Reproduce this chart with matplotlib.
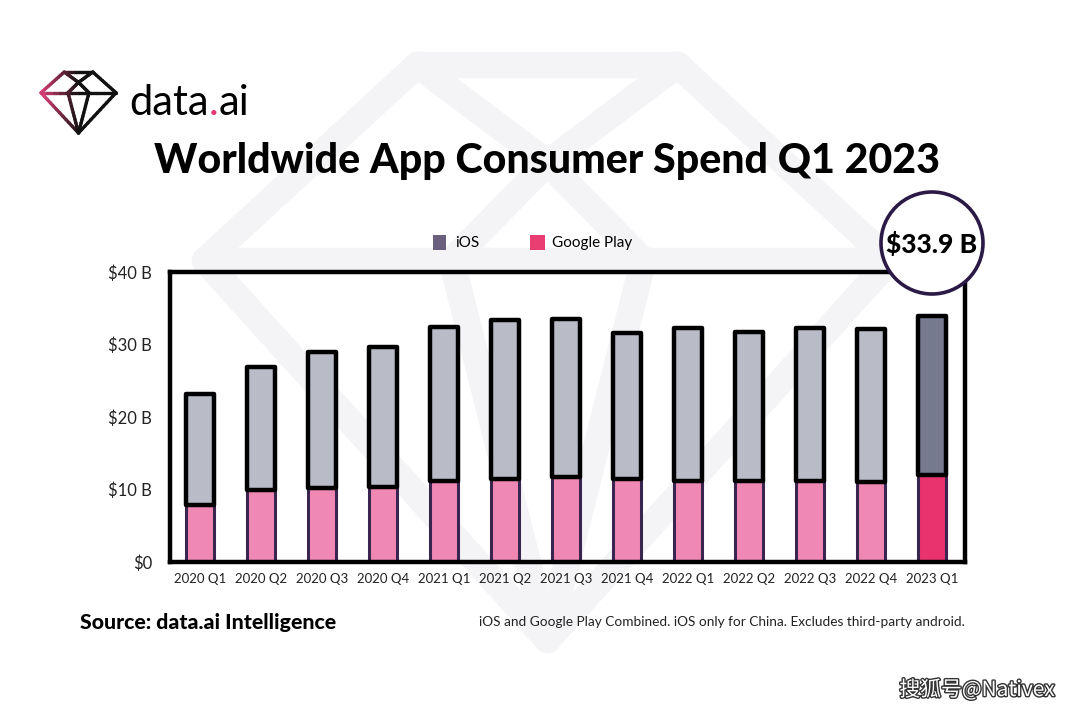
import numpy as np
import matplotlib
matplotlib.use("Agg")
import matplotlib.pyplot as plt
from matplotlib.patches import Circle, Rectangle
from matplotlib.collections import LineCollection
import matplotlib.patheffects as pe

# data (billions USD)
quarters = ["2020 Q1", "2020 Q2", "2020 Q3", "2020 Q4", "2021 Q1", "2021 Q2", "2021 Q3",
            "2021 Q4", "2022 Q1", "2022 Q2", "2022 Q3", "2022 Q4", "2023 Q1"]
total = [23.2, 26.9, 29.0, 29.7, 32.4, 33.4, 33.5, 31.6, 32.3, 31.7, 32.3, 32.1, 33.9]
google_play = [7.9, 9.9, 10.2, 10.3, 11.2, 11.4, 11.7, 11.4, 11.2, 11.2, 11.2, 11.0, 12.0]
ios = [t - g for t, g in zip(total, google_play)]
yticks = [0, 10, 20, 30, 40]
ytick_labels = ["$0", "$10 B", "$20 B", "$30 B", "$40 B"]

W, H = 1080, 715
fig = plt.figure(figsize=(W / 100, H / 100), dpi=100)
fig.patch.set_facecolor("white")
plt.rcParams["font.family"] = ["Lato", "DejaVu Sans"]

# background layer (pixel coords)
bg = fig.add_axes([0, 0, 1, 1])
bg.set_xlim(0, W)
bg.set_ylim(H, 0)
bg.axis("off")

# diamond shape, normalized: u across, v down
def diamond_segments():
    tl, tr = (0.31, 0.0), (0.69, 0.0)
    l, r, b = (0.0, 0.34), (1.0, 0.34), (0.5, 1.0)
    apex = (0.5, 0.17)
    gl, gr = (0.36, 0.34), (0.64, 0.34)
    return [(tl, tr), (tr, r), (r, b), (b, l), (l, tl),
            (l, r), (apex, gl), (apex, gr), (gl, b), (gr, b),
            (tl, apex), (tr, apex)]

def place(segs, x0, y0, w, h):
    return [[(x0 + a[0] * w, y0 + a[1] * h), (x0 + c[0] * w, y0 + c[1] * h)] for a, c in segs]

wm = place(diamond_segments(), 205, 65, 685, 575)
bg.add_collection(LineCollection(wm, colors="#f4f4f6", linewidths=19,
                                 capstyle="round", joinstyle="round", zorder=0))

# logo diamond with pink-to-black gradient
logo = place(diamond_segments(), 41, 72, 75, 61)
pieces, cols = [], []
pink = np.array(matplotlib.colors.to_rgb("#e0407a"))
dark = np.array(matplotlib.colors.to_rgb("#111111"))
for (x1, y1), (x2, y2) in logo:
    for t in np.linspace(0, 1, 12, endpoint=False):
        s = t + 1 / 12
        xa, ya = x1 + (x2 - x1) * t, y1 + (y2 - y1) * t
        xb, yb = x1 + (x2 - x1) * s, y1 + (y2 - y1) * s
        f = np.clip(((xa + xb) / 2 - 41) / 38, 0, 1)
        pieces.append([(xa, ya), (xb, yb)])
        cols.append(pink * (1 - f) + dark * f)
bg.add_collection(LineCollection(pieces, colors=cols, linewidths=2.4, capstyle="round", zorder=2))

# main chart
ax = fig.add_axes([170 / W, 1 - 562 / H, (965 - 170) / W, (562 - 272) / H])
ax.patch.set_alpha(0)
x = np.arange(len(quarters))
gp_colors = ["#f088b4"] * (len(x) - 1) + ["#e8336e"]
ios_colors = ["#b9bbc7"] * (len(x) - 1) + ["#757a8e"]
ax.bar(x, google_play, width=0.46, color=gp_colors, edgecolor="#3a2450", linewidth=2.2, zorder=2)
ax.bar(x, ios, bottom=google_play, width=0.46, color=ios_colors, edgecolor="black",
       linewidth=3.2, zorder=3, joinstyle="round")
ax.set_xlim(-0.49, 12.54)
ax.set_ylim(0, 40)
ax.set_yticks(yticks)
ax.set_yticklabels(ytick_labels)
ax.set_xticks(x)
ax.set_xticklabels(quarters)
ax.tick_params(axis="y", length=0, pad=13, labelsize=12, labelcolor="#222222")
ax.tick_params(axis="x", length=0, pad=8, labelsize=9.5, labelcolor="#222222")
for sp in ax.spines.values():
    sp.set_linewidth(3.2)
    sp.set_color("black")
    sp.set_zorder(5)

# overlay layer
top = fig.add_axes([0, 0, 1, 1])
top.set_xlim(0, W)
top.set_ylim(H, 0)
top.axis("off")
top.patch.set_alpha(0)

top.add_patch(Circle((932, 243), 51, facecolor="white", edgecolor="#2a1a45", linewidth=2.6, zorder=5))
top.text(932, 244, "$33.9 B", ha="center", va="center", fontsize=19, fontweight="black", zorder=6)

# legend
top.add_patch(Rectangle((433, 235), 13, 15, facecolor="#6b5f7e", edgecolor="none"))
top.text(455, 243, "iOS", va="center", fontsize=11)
top.add_patch(Rectangle((530, 235), 15, 15, facecolor="#e83e72", edgecolor="none"))
top.text(552, 243, "Google Play", va="center", fontsize=11)

# title and texts
top.text(547, 161, "Worldwide App Consumer Spend Q1 2023", ha="center", va="center",
         fontsize=29.6, fontweight="black")
t1 = top.text(129, 103, "data", va="center", fontsize=30)
fig.canvas.draw()
r = fig.canvas.get_renderer()
bb = t1.get_window_extent(r)
t2 = top.text(bb.x1, 103, ".", va="center", fontsize=30, color="#e8336e")
fig.canvas.draw()
bb2 = t2.get_window_extent(r)
top.text(bb2.x1, 103, "ai", va="center", fontsize=30)

top.text(80, 622, "Source: data.ai Intelligence", va="center", fontsize=15.3, fontweight="black")
top.text(965, 622, "iOS and Google Play Combined. iOS only for China. Excludes third-party android.",
         ha="right", va="center", fontsize=9.8, color="#222222")

top.text(1055, 690, "搜狐号@Nativex", ha="right", va="center", fontsize=15, color="white",
         family=["Noto Sans CJK SC", "DejaVu Sans"],
         path_effects=[pe.withStroke(linewidth=2, foreground="#333333")])

fig.savefig("out.png", dpi=100, facecolor="white")
